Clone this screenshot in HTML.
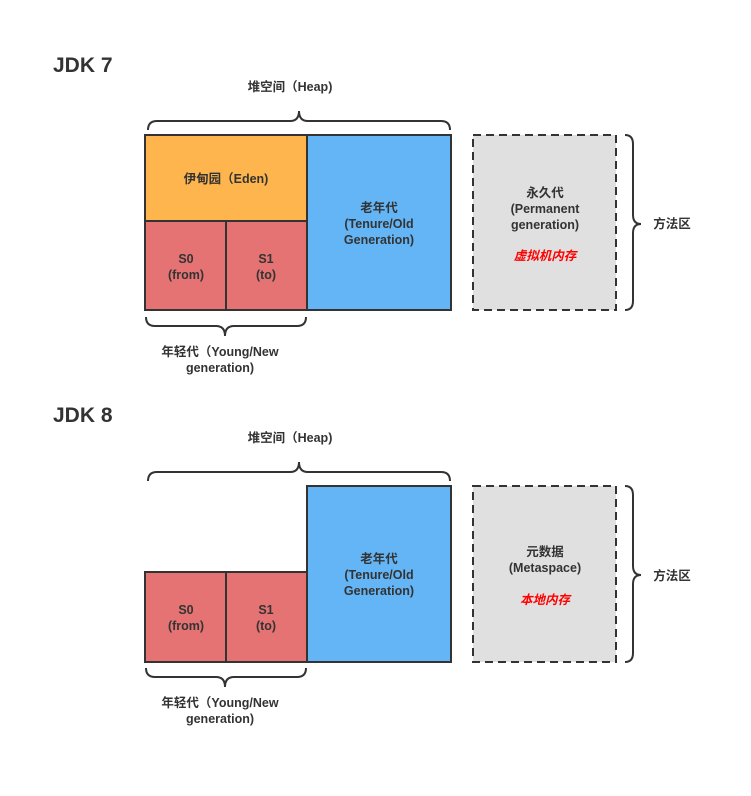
<!DOCTYPE html>
<html><head><meta charset="utf-8"><style>
html,body{margin:0;padding:0;background:#fff;}
svg text{font-family:"Liberation Sans","Noto Sans CJK SC",sans-serif;font-weight:bold;fill:#333;font-size:12.5px;text-anchor:middle;}
</style></head><body>
<svg width="751" height="791" viewBox="0 0 751 791" xmlns="http://www.w3.org/2000/svg">
<g>
<text x="53" y="72" style="font-size:21px;text-anchor:start;fill:#333">JDK 7</text>
<text x="290" y="91">堆空间（Heap)</text>
<path d="M148,130 Q148,121 157,121 L290,121 Q299,121 299,111 Q299,121 308,121 L441,121 Q450,121 450,130" fill="none" stroke="#333" stroke-width="2"/>
<rect x="145" y="135" width="162" height="86" fill="#ffb54d" stroke="#333" stroke-width="2"/>
<rect x="145" y="221" width="81" height="89" fill="#e57373" stroke="#333" stroke-width="2"/>
<rect x="226" y="221" width="81" height="89" fill="#e57373" stroke="#333" stroke-width="2"/>
<rect x="307" y="135" width="144" height="175" fill="#64b5f6" stroke="#333" stroke-width="2"/>
<text x="226" y="183">伊甸园（Eden)</text>
<text x="186" y="263">S0</text><text x="186" y="279">(from)</text>
<text x="266" y="263">S1</text><text x="266" y="279">(to)</text>
<text x="379" y="212">老年代</text><text x="379" y="228">(Tenure/Old</text><text x="379" y="244">Generation)</text>
<path d="M146,317 Q146,326 155,326 L216,326 Q225,326 225,336 Q225,326 234,326 L297,326 Q306,326 306,317" fill="none" stroke="#333" stroke-width="2"/>
<text x="220" y="356">年轻代（Young/New</text><text x="220" y="372">generation)</text>
<rect x="473" y="135" width="143" height="175" fill="#e0e0e0" stroke="#333" stroke-width="2" stroke-dasharray="8,5"/>
<text x="545" y="197">永久代</text><text x="545" y="213">(Permanent</text><text x="545" y="229">generation)</text>
<text x="545" y="260" style="fill:#ff0000;font-style:italic">虚拟机内存</text>
<path d="M625,135 Q633,135 633,144 L633,215 Q633,224 641,224 Q633,224 633,233 L633,301 Q633,310 625,310" fill="none" stroke="#333" stroke-width="2"/>
<text x="672" y="228">方法区</text>
</g>
<g>
<text x="53" y="422" style="font-size:21px;text-anchor:start;fill:#333">JDK 8</text>
<text x="290" y="442">堆空间（Heap)</text>
<path d="M148,481 Q148,472 157,472 L290,472 Q299,472 299,462 Q299,472 308,472 L441,472 Q450,472 450,481" fill="none" stroke="#333" stroke-width="2"/>
<rect x="145" y="572" width="81" height="90" fill="#e57373" stroke="#333" stroke-width="2"/>
<rect x="226" y="572" width="81" height="90" fill="#e57373" stroke="#333" stroke-width="2"/>
<rect x="307" y="486" width="144" height="176" fill="#64b5f6" stroke="#333" stroke-width="2"/>
<text x="186" y="614">S0</text><text x="186" y="630">(from)</text>
<text x="266" y="614">S1</text><text x="266" y="630">(to)</text>
<text x="379" y="563">老年代</text><text x="379" y="579">(Tenure/Old</text><text x="379" y="595">Generation)</text>
<path d="M146,668 Q146,677 155,677 L216,677 Q225,677 225,687 Q225,677 234,677 L297,677 Q306,677 306,668" fill="none" stroke="#333" stroke-width="2"/>
<text x="220" y="707">年轻代（Young/New</text><text x="220" y="723">generation)</text>
<rect x="473" y="486" width="143" height="176" fill="#e0e0e0" stroke="#333" stroke-width="2" stroke-dasharray="8,5"/>
<text x="545" y="556">元数据</text><text x="545" y="572">(Metaspace)</text>
<text x="545" y="604" style="fill:#ff0000;font-style:italic">本地内存</text>
<path d="M625,486 Q633,486 633,495 L633,566 Q633,575 641,575 Q633,575 633,584 L633,653 Q633,662 625,662" fill="none" stroke="#333" stroke-width="2"/>
<text x="672" y="580">方法区</text>
</g>
</svg>
</body></html>
